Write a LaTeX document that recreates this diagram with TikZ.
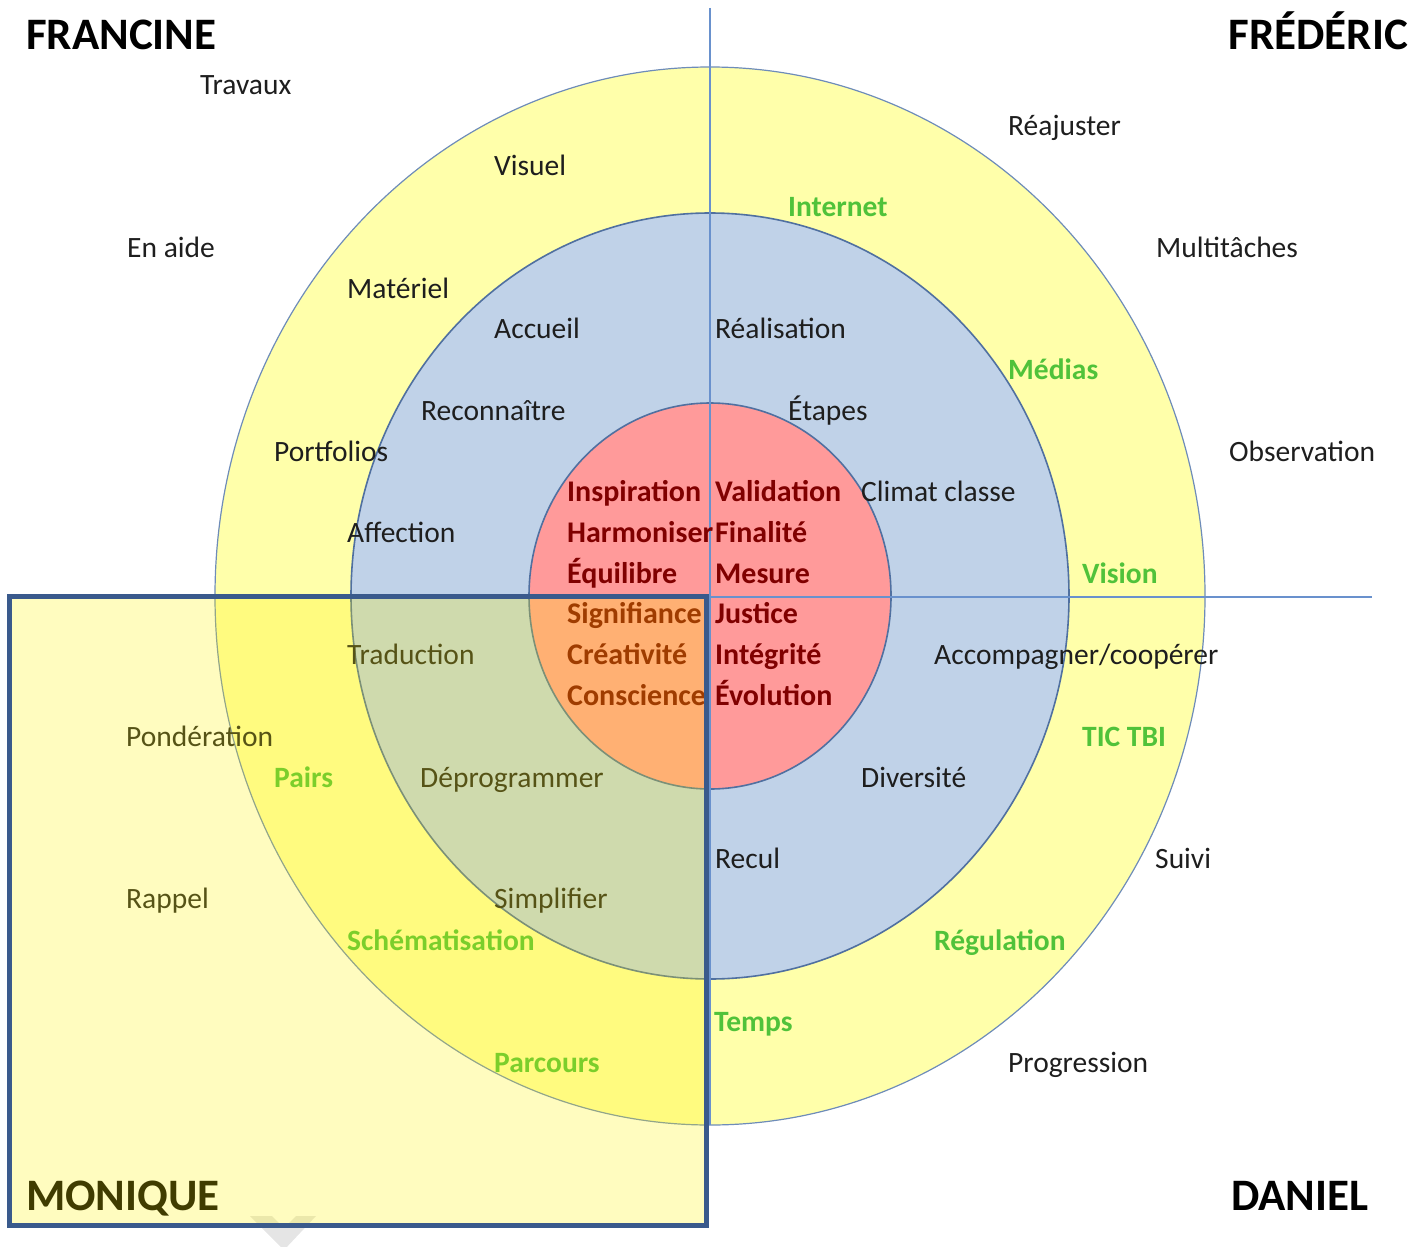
\documentclass[tikz,border=0pt]{standalone}
\usepackage{fontspec}
\setmainfont{Carlito}
\usetikzlibrary{positioning}
\usepackage{xcolor}
\definecolor{ringyellow}{RGB}{255,255,170}
\definecolor{ringblue}{RGB}{192,210,232}
\definecolor{ringred}{RGB}{255,154,154}
\definecolor{ringedge}{RGB}{80,112,160}
\definecolor{outeredge}{RGB}{110,140,185}
\definecolor{boxedge}{RGB}{58,90,140}
\definecolor{axisblue}{RGB}{105,145,205}
\definecolor{inkgreen}{RGB}{80,194,58}
\definecolor{inkred}{RGB}{128,0,0}
\definecolor{inkgray}{RGB}{30,30,30}

\begin{document}
\begin{tikzpicture}[x=1pt,y=-1pt]
            \tikzstyle{word}=[anchor=base west, inner sep=0pt, text=inkgray, font=\fontsize{29.5}{30}\selectfont]
            \tikzstyle{tool}=[word, text=inkgreen, font=\fontsize{29.5}{30}\selectfont\bfseries]
            \tikzstyle{core}=[word, text=inkred, font=\fontsize{30}{30}\selectfont\bfseries]
            \tikzstyle{person}=[anchor=base west, inner sep=0pt, text=black, font=\fontsize{45}{46}\selectfont\bfseries]
            \tikzstyle{ring}=[draw=ringedge, line width=1.6pt]
            \tikzstyle{axis}=[draw=axisblue, line width=1.5pt]

            \useasboundingbox (0,0) rectangle (1421,1247);

            % Rings
            \coordinate (C) at (710,596);
            \filldraw[fill=ringyellow, draw=outeredge, line width=1.2pt] (C) ellipse [x radius=495pt, y radius=529pt];
            \filldraw[fill=ringblue, ring] (C) ellipse [x radius=359pt, y radius=383pt];
            \filldraw[fill=ringred, ring] (C) ellipse [x radius=181pt, y radius=193pt];

            % Axes
            \coordinate (N) at (710,8);
            \coordinate (S) at (710,1125);
            \coordinate (W) at (215,597);
            \coordinate (E) at (1372,597);
            \draw[axis] (N) -- (S);
            \draw[axis] (W) -- (E);

            % Francine
            \node[person] (francine) at (26,49) {FRANCINE};
            \node[word] (travaux) at (200,94) {Travaux};
            \node[word] (visuel) at (494,175) {Visuel};
            \node[word] (enaide) at (127,257) {En aide};
            \node[word] (materiel) at (347,298) {Matériel};
            \node[word] (accueil) at (494,338) {Accueil};
            \node[word] (reconnaitre) at (421,420) {Reconnaître};
            \node[word] (portfolios) at (274,461) {Portfolios};
            \node[word] (affection) at (347,542) {Affection};
            \node[core] (inspiration) at (567,501) {Inspiration};
            \node[core] (harmoniser) at (567,542) {Harmoniser};
            \node[core] (equilibre) at (567,583) {Équilibre};

            % Frederic
            \node[person, anchor=base east] (frederic) at (1408,49) {FRÉDÉRIC};
            \node[word] (reajuster) at (1008,135) {Réajuster};
            \node[tool] (internet) at (788,216) {Internet};
            \node[word] (multitaches) at (1156,257) {Multitâches};
            \node[word] (realisation) at (715,338) {Réalisation};
            \node[tool] (medias) at (1008,379) {Médias};
            \node[word] (etapes) at (788,420) {Étapes};
            \node[word] (observation) at (1229,461) {Observation};
            \node[word] (climat) at (861,501) {Climat classe};
            \node[core] (validation) at (715,501) {Validation};
            \node[core] (finalite) at (715,542) {Finalité};
            \node[core] (mesure) at (715,583) {Mesure};
            \node[tool] (vision) at (1082,583) {Vision};

            % Daniel
            \node[core] (justice) at (715,623) {Justice};
            \node[core] (integrite) at (715,664) {Intégrité};
            \node[core] (evolution) at (715,705) {Évolution};
            \node[word] (accompagner) at (934,664) {Accompagner/coopérer};
            \node[tool] (tictbi) at (1082,746) {TIC TBI};
            \node[word] (diversite) at (861,787) {Diversité};
            \node[word] (recul) at (715,868) {Recul};
            \node[word] (suivi) at (1155,868) {Suivi};
            \node[tool] (regulation) at (934,950) {Régulation};
            \node[tool] (temps) at (714,1031) {Temps};
            \node[word] (progression) at (1008,1072) {Progression};
            \node[person] (daniel) at (1231,1210) {DANIEL};

            % Monique
            \node[core] (signifiance) at (567,623) {Signifiance};
            \node[core] (creativite) at (567,664) {Créativité};
            \node[core] (conscience) at (567,705) {Conscience};
            \node[word] (traduction) at (347,664) {Traduction};
            \node[word] (ponderation) at (126,746) {Pondération};
            \node[tool] (pairs) at (274,787) {Pairs};
            \node[word] (deprogrammer) at (420,787) {Déprogrammer};
            \node[word] (rappel) at (126,908) {Rappel};
            \node[word] (simplifier) at (494,908) {Simplifier};
            \node[tool] (schematisation) at (347,950) {Schématisation};
            \node[tool] (parcours) at (494,1072) {Parcours};
            \node[person] (monique) at (26,1210) {MONIQUE};

            % Chevron below the box
            \fill[black!10] (250,1216) -- (272,1216) -- (284,1228) -- (296,1216) -- (316,1216) -- (284,1250) -- cycle;

            % Monique box
            \draw[boxedge, line width=5pt, fill=yellow, fill opacity=0.25] (9,596) rectangle (706.5,1225.5);
        \end{tikzpicture}
\end{document}
